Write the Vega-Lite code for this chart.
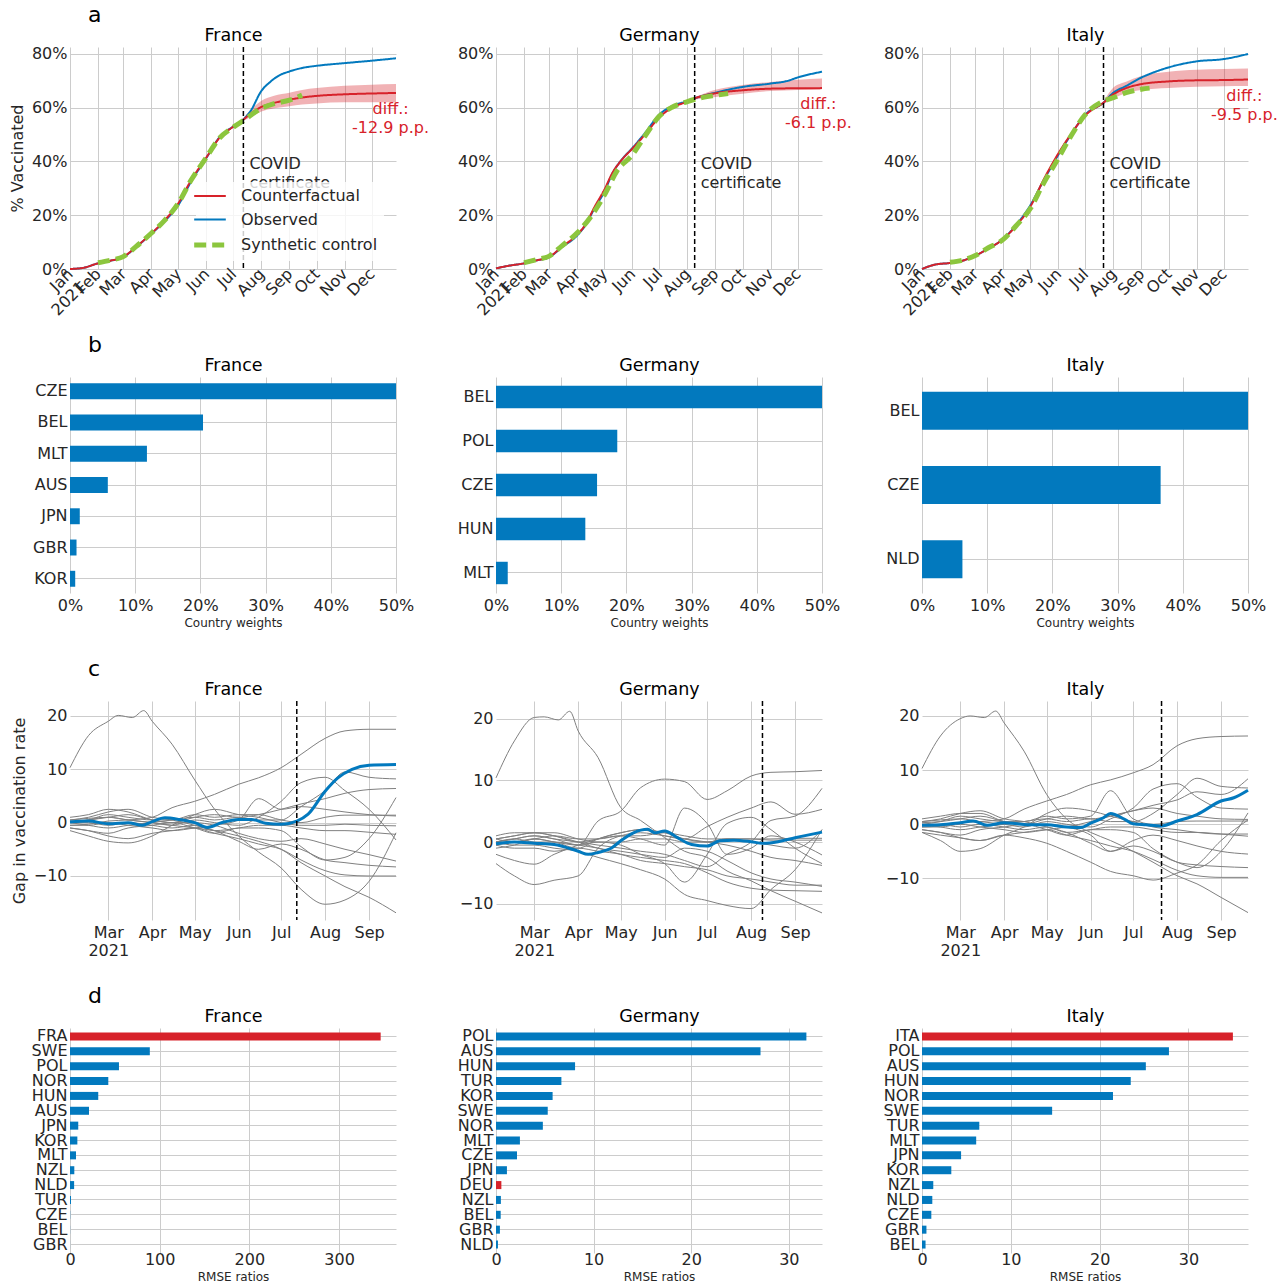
{
"$schema":"https://vega.github.io/schema/vega-lite/v6.json",
"background":"white",
"padding":{"left":9,"top":4,"right":0,"bottom":0},
"config":{
 "font":"DejaVu Sans",
 "view":{"stroke":null},
 "axis":{"domain":false,"ticks":false,"grid":true,"gridColor":"#cccccc","gridWidth":1,"labelFontSize":16,"labelColor":"#262626","labelFont":"DejaVu Sans","titleFont":"DejaVu Sans","titleFontSize":16,"titleFontWeight":"normal","titleColor":"#262626","labelFlush":false,"labelOverlap":false,"labelPadding":3},
 "title":{"fontSize":22,"fontWeight":"normal","color":"#000000","font":"DejaVu Sans"}
},
"datasets":{
"aline":[
{"c":"F","s":"Observed","d":"2021-01-01","v":0},{"c":"F","s":"Observed","d":"2021-01-15","v":0.4},{"c":"F","s":"Observed","d":"2021-02-01","v":2.1},{"c":"F","s":"Observed","d":"2021-02-15","v":3.1},{"c":"F","s":"Observed","d":"2021-03-01","v":4.4},{"c":"F","s":"Observed","d":"2021-03-15","v":8.1},{"c":"F","s":"Observed","d":"2021-04-01","v":13.1},{"c":"F","s":"Observed","d":"2021-04-15","v":17.5},{"c":"F","s":"Observed","d":"2021-05-01","v":23.8},{"c":"F","s":"Observed","d":"2021-05-15","v":32.5},{"c":"F","s":"Observed","d":"2021-06-01","v":41.3},{"c":"F","s":"Observed","d":"2021-06-15","v":48.8},{"c":"F","s":"Observed","d":"2021-07-01","v":53.1},{"c":"F","s":"Observed","d":"2021-07-12","v":55.6},{"c":"F","s":"Observed","d":"2021-07-20","v":58.8},{"c":"F","s":"Observed","d":"2021-08-01","v":66.3},{"c":"F","s":"Observed","d":"2021-08-10","v":69.4},{"c":"F","s":"Observed","d":"2021-08-20","v":71.9},{"c":"F","s":"Observed","d":"2021-09-01","v":73.5},{"c":"F","s":"Observed","d":"2021-09-15","v":74.8},{"c":"F","s":"Observed","d":"2021-10-01","v":75.6},{"c":"F","s":"Observed","d":"2021-11-01","v":76.6},{"c":"F","s":"Observed","d":"2021-12-01","v":77.5},{"c":"F","s":"Observed","d":"2021-12-28","v":78.4},
{"c":"F","s":"Counterfactual","d":"2021-01-01","v":0},{"c":"F","s":"Counterfactual","d":"2021-01-15","v":0.4},{"c":"F","s":"Counterfactual","d":"2021-02-01","v":2.1},{"c":"F","s":"Counterfactual","d":"2021-02-15","v":3.1},{"c":"F","s":"Counterfactual","d":"2021-03-01","v":4.5},{"c":"F","s":"Counterfactual","d":"2021-03-15","v":8.2},{"c":"F","s":"Counterfactual","d":"2021-04-01","v":13.2},{"c":"F","s":"Counterfactual","d":"2021-04-15","v":17.8},{"c":"F","s":"Counterfactual","d":"2021-05-01","v":24.5},{"c":"F","s":"Counterfactual","d":"2021-05-15","v":33},{"c":"F","s":"Counterfactual","d":"2021-06-01","v":41.5},{"c":"F","s":"Counterfactual","d":"2021-06-15","v":48.6},{"c":"F","s":"Counterfactual","d":"2021-07-01","v":53},{"c":"F","s":"Counterfactual","d":"2021-07-12","v":55.6},{"c":"F","s":"Counterfactual","d":"2021-07-20","v":57.8},{"c":"F","s":"Counterfactual","d":"2021-08-01","v":60.3},{"c":"F","s":"Counterfactual","d":"2021-08-15","v":61.8},{"c":"F","s":"Counterfactual","d":"2021-09-01","v":63},{"c":"F","s":"Counterfactual","d":"2021-09-15","v":63.8},{"c":"F","s":"Counterfactual","d":"2021-10-01","v":64.4},{"c":"F","s":"Counterfactual","d":"2021-11-01","v":65},{"c":"F","s":"Counterfactual","d":"2021-12-01","v":65.3},{"c":"F","s":"Counterfactual","d":"2021-12-28","v":65.5},
{"c":"F","s":"Synthetic control","d":"2021-02-01","v":2.3},{"c":"F","s":"Synthetic control","d":"2021-02-15","v":3.3},{"c":"F","s":"Synthetic control","d":"2021-03-01","v":4.6},{"c":"F","s":"Synthetic control","d":"2021-03-15","v":8.3},{"c":"F","s":"Synthetic control","d":"2021-04-01","v":13.3},{"c":"F","s":"Synthetic control","d":"2021-04-15","v":17.8},{"c":"F","s":"Synthetic control","d":"2021-05-01","v":24.5},{"c":"F","s":"Synthetic control","d":"2021-05-15","v":33},{"c":"F","s":"Synthetic control","d":"2021-06-01","v":41.5},{"c":"F","s":"Synthetic control","d":"2021-06-15","v":48.5},{"c":"F","s":"Synthetic control","d":"2021-07-01","v":52.8},{"c":"F","s":"Synthetic control","d":"2021-07-12","v":55.2},{"c":"F","s":"Synthetic control","d":"2021-08-01","v":59.8},{"c":"F","s":"Synthetic control","d":"2021-08-15","v":61.5},{"c":"F","s":"Synthetic control","d":"2021-09-01","v":62.8},{"c":"F","s":"Synthetic control","d":"2021-09-15","v":64.7},
{"c":"G","s":"Observed","d":"2021-01-01","v":0.25},{"c":"G","s":"Observed","d":"2021-01-15","v":1.2},{"c":"G","s":"Observed","d":"2021-02-01","v":2.1},{"c":"G","s":"Observed","d":"2021-02-15","v":3.2},{"c":"G","s":"Observed","d":"2021-03-01","v":4.4},{"c":"G","s":"Observed","d":"2021-03-15","v":8.1},{"c":"G","s":"Observed","d":"2021-04-01","v":12.5},{"c":"G","s":"Observed","d":"2021-04-10","v":16.3},{"c":"G","s":"Observed","d":"2021-04-20","v":22.5},{"c":"G","s":"Observed","d":"2021-05-01","v":28.75},{"c":"G","s":"Observed","d":"2021-05-10","v":35.6},{"c":"G","s":"Observed","d":"2021-05-20","v":40.6},{"c":"G","s":"Observed","d":"2021-06-01","v":45},{"c":"G","s":"Observed","d":"2021-06-15","v":50.6},{"c":"G","s":"Observed","d":"2021-07-01","v":57.5},{"c":"G","s":"Observed","d":"2021-07-15","v":60.6},{"c":"G","s":"Observed","d":"2021-08-01","v":62.5},{"c":"G","s":"Observed","d":"2021-08-09","v":63.5},{"c":"G","s":"Observed","d":"2021-09-01","v":65.6},{"c":"G","s":"Observed","d":"2021-10-01","v":67.75},{"c":"G","s":"Observed","d":"2021-11-01","v":69},{"c":"G","s":"Observed","d":"2021-11-20","v":70},{"c":"G","s":"Observed","d":"2021-12-01","v":71.25},{"c":"G","s":"Observed","d":"2021-12-28","v":73.4},
{"c":"G","s":"Counterfactual","d":"2021-01-01","v":0.25},{"c":"G","s":"Counterfactual","d":"2021-01-15","v":1.2},{"c":"G","s":"Counterfactual","d":"2021-02-01","v":2.1},{"c":"G","s":"Counterfactual","d":"2021-02-15","v":3.2},{"c":"G","s":"Counterfactual","d":"2021-03-01","v":4.5},{"c":"G","s":"Counterfactual","d":"2021-03-15","v":8.3},{"c":"G","s":"Counterfactual","d":"2021-04-01","v":12.8},{"c":"G","s":"Counterfactual","d":"2021-04-10","v":16.5},{"c":"G","s":"Counterfactual","d":"2021-04-20","v":23},{"c":"G","s":"Counterfactual","d":"2021-05-01","v":29.5},{"c":"G","s":"Counterfactual","d":"2021-05-10","v":35.8},{"c":"G","s":"Counterfactual","d":"2021-05-20","v":40.5},{"c":"G","s":"Counterfactual","d":"2021-06-01","v":44.8},{"c":"G","s":"Counterfactual","d":"2021-06-15","v":50},{"c":"G","s":"Counterfactual","d":"2021-07-01","v":56.5},{"c":"G","s":"Counterfactual","d":"2021-07-15","v":60},{"c":"G","s":"Counterfactual","d":"2021-08-01","v":62.3},{"c":"G","s":"Counterfactual","d":"2021-08-09","v":63.5},{"c":"G","s":"Counterfactual","d":"2021-09-01","v":65.4},{"c":"G","s":"Counterfactual","d":"2021-10-01","v":66.5},{"c":"G","s":"Counterfactual","d":"2021-11-01","v":67.1},{"c":"G","s":"Counterfactual","d":"2021-12-01","v":67.25},{"c":"G","s":"Counterfactual","d":"2021-12-28","v":67.3},
{"c":"G","s":"Synthetic control","d":"2021-02-01","v":2.3},{"c":"G","s":"Synthetic control","d":"2021-02-15","v":3.5},{"c":"G","s":"Synthetic control","d":"2021-03-01","v":4.8},{"c":"G","s":"Synthetic control","d":"2021-03-15","v":8.6},{"c":"G","s":"Synthetic control","d":"2021-04-01","v":13.5},{"c":"G","s":"Synthetic control","d":"2021-04-15","v":19},{"c":"G","s":"Synthetic control","d":"2021-05-01","v":27.5},{"c":"G","s":"Synthetic control","d":"2021-05-15","v":36.5},{"c":"G","s":"Synthetic control","d":"2021-06-01","v":42.5},{"c":"G","s":"Synthetic control","d":"2021-06-15","v":49.5},{"c":"G","s":"Synthetic control","d":"2021-07-01","v":56.9},{"c":"G","s":"Synthetic control","d":"2021-07-15","v":60.2},{"c":"G","s":"Synthetic control","d":"2021-08-01","v":62.3},{"c":"G","s":"Synthetic control","d":"2021-08-15","v":63.6},{"c":"G","s":"Synthetic control","d":"2021-09-01","v":64.6},{"c":"G","s":"Synthetic control","d":"2021-09-15","v":65.3},
{"c":"I","s":"Observed","d":"2021-01-01","v":0},{"c":"I","s":"Observed","d":"2021-01-15","v":1.6},{"c":"I","s":"Observed","d":"2021-02-01","v":2.25},{"c":"I","s":"Observed","d":"2021-02-15","v":3.1},{"c":"I","s":"Observed","d":"2021-03-01","v":5},{"c":"I","s":"Observed","d":"2021-03-15","v":7.5},{"c":"I","s":"Observed","d":"2021-04-01","v":11.25},{"c":"I","s":"Observed","d":"2021-04-15","v":16.25},{"c":"I","s":"Observed","d":"2021-05-01","v":23.75},{"c":"I","s":"Observed","d":"2021-05-15","v":32.5},{"c":"I","s":"Observed","d":"2021-06-01","v":42.5},{"c":"I","s":"Observed","d":"2021-06-15","v":50},{"c":"I","s":"Observed","d":"2021-07-01","v":57.5},{"c":"I","s":"Observed","d":"2021-07-21","v":61.9},{"c":"I","s":"Observed","d":"2021-08-01","v":65.6},{"c":"I","s":"Observed","d":"2021-08-15","v":68.1},{"c":"I","s":"Observed","d":"2021-09-01","v":71.25},{"c":"I","s":"Observed","d":"2021-09-15","v":73.2},{"c":"I","s":"Observed","d":"2021-10-01","v":75},{"c":"I","s":"Observed","d":"2021-11-01","v":77.25},{"c":"I","s":"Observed","d":"2021-12-01","v":78.1},{"c":"I","s":"Observed","d":"2021-12-28","v":80},
{"c":"I","s":"Counterfactual","d":"2021-01-01","v":0},{"c":"I","s":"Counterfactual","d":"2021-01-15","v":1.6},{"c":"I","s":"Counterfactual","d":"2021-02-01","v":2.25},{"c":"I","s":"Counterfactual","d":"2021-02-15","v":3.1},{"c":"I","s":"Counterfactual","d":"2021-03-01","v":5},{"c":"I","s":"Counterfactual","d":"2021-03-15","v":7.5},{"c":"I","s":"Counterfactual","d":"2021-04-01","v":11.2},{"c":"I","s":"Counterfactual","d":"2021-04-15","v":16},{"c":"I","s":"Counterfactual","d":"2021-05-01","v":23.2},{"c":"I","s":"Counterfactual","d":"2021-05-15","v":32.8},{"c":"I","s":"Counterfactual","d":"2021-06-01","v":43},{"c":"I","s":"Counterfactual","d":"2021-06-15","v":50.2},{"c":"I","s":"Counterfactual","d":"2021-07-01","v":57.2},{"c":"I","s":"Counterfactual","d":"2021-07-21","v":61.9},{"c":"I","s":"Counterfactual","d":"2021-08-01","v":65},{"c":"I","s":"Counterfactual","d":"2021-08-15","v":67.3},{"c":"I","s":"Counterfactual","d":"2021-09-01","v":68.8},{"c":"I","s":"Counterfactual","d":"2021-10-01","v":69.8},{"c":"I","s":"Counterfactual","d":"2021-11-01","v":70.2},{"c":"I","s":"Counterfactual","d":"2021-12-01","v":70.3},{"c":"I","s":"Counterfactual","d":"2021-12-28","v":70.5},
{"c":"I","s":"Synthetic control","d":"2021-02-01","v":2.5},{"c":"I","s":"Synthetic control","d":"2021-02-15","v":3.3},{"c":"I","s":"Synthetic control","d":"2021-03-01","v":5},{"c":"I","s":"Synthetic control","d":"2021-03-15","v":7.8},{"c":"I","s":"Synthetic control","d":"2021-04-01","v":11},{"c":"I","s":"Synthetic control","d":"2021-04-15","v":16},{"c":"I","s":"Synthetic control","d":"2021-05-01","v":22.5},{"c":"I","s":"Synthetic control","d":"2021-05-15","v":31.5},{"c":"I","s":"Synthetic control","d":"2021-06-01","v":41.25},{"c":"I","s":"Synthetic control","d":"2021-06-15","v":49.5},{"c":"I","s":"Synthetic control","d":"2021-07-01","v":57.5},{"c":"I","s":"Synthetic control","d":"2021-07-21","v":62.5},{"c":"I","s":"Synthetic control","d":"2021-08-01","v":63.75},{"c":"I","s":"Synthetic control","d":"2021-08-15","v":65.6},{"c":"I","s":"Synthetic control","d":"2021-09-01","v":66.9},{"c":"I","s":"Synthetic control","d":"2021-09-10","v":67.3}
],
"aband":[
{"c":"F","d":"2021-07-12","lo":55.2,"hi":56},{"c":"F","d":"2021-07-20","lo":56.5,"hi":59.2},{"c":"F","d":"2021-08-01","lo":58.6,"hi":62.6},{"c":"F","d":"2021-08-15","lo":59.8,"hi":64.5},{"c":"F","d":"2021-09-01","lo":60.6,"hi":65.6},{"c":"F","d":"2021-09-15","lo":61.2,"hi":66.6},{"c":"F","d":"2021-10-01","lo":61.6,"hi":67.3},{"c":"F","d":"2021-11-01","lo":62,"hi":68.2},{"c":"F","d":"2021-12-01","lo":62,"hi":68.6},{"c":"F","d":"2021-12-28","lo":62,"hi":68.8},
{"c":"G","d":"2021-08-09","lo":63.1,"hi":63.9},{"c":"G","d":"2021-09-01","lo":64,"hi":66.7},{"c":"G","d":"2021-10-01","lo":65.2,"hi":68.5},{"c":"G","d":"2021-11-01","lo":66.2,"hi":69.6},{"c":"G","d":"2021-12-01","lo":66.6,"hi":70.4},{"c":"G","d":"2021-12-28","lo":66.9,"hi":70.9},
{"c":"I","d":"2021-07-21","lo":61.4,"hi":62.4},{"c":"I","d":"2021-08-01","lo":63.5,"hi":67.5},{"c":"I","d":"2021-08-15","lo":65.5,"hi":69.7},{"c":"I","d":"2021-09-01","lo":66.6,"hi":71.8},{"c":"I","d":"2021-10-01","lo":67.3,"hi":73.4},{"c":"I","d":"2021-11-01","lo":67.8,"hi":74.1},{"c":"I","d":"2021-12-01","lo":68,"hi":74.4},{"c":"I","d":"2021-12-28","lo":68.1,"hi":74.6}
],
"adiff":[
{"c":"F","d":"2021-12-22","v":59.4,"t":"diff.:\n-12.9 p.p."},
{"c":"G","d":"2021-12-24","v":61.3,"t":"diff.:\n-6.1 p.p."},
{"c":"I","d":"2021-12-24","v":64.5,"t":"diff.:\n-9.5 p.p."}
],
"acert":[
{"c":"F","d":"2021-07-12","v":39.2},
{"c":"G","d":"2021-08-09","v":39.2},
{"c":"I","d":"2021-07-21","v":39.2}
],
"b":[
{"c":"F","k":"CZE","w":0.587},{"c":"F","k":"BEL","w":0.204},{"c":"F","k":"MLT","w":0.118},{"c":"F","k":"AUS","w":0.058},{"c":"F","k":"JPN","w":0.015},{"c":"F","k":"GBR","w":0.01},{"c":"F","k":"KOR","w":0.008},
{"c":"G","k":"BEL","w":0.504},{"c":"G","k":"POL","w":0.186},{"c":"G","k":"CZE","w":0.155},{"c":"G","k":"HUN","w":0.137},{"c":"G","k":"MLT","w":0.018},
{"c":"I","k":"BEL","w":0.572},{"c":"I","k":"CZE","w":0.366},{"c":"I","k":"NLD","w":0.062}
],
"d":[
{"c":"F","k":"FRA","r":346.4,"t":true},{"c":"F","k":"SWE","r":89},{"c":"F","k":"POL","r":54.6},{"c":"F","k":"NOR","r":42.7},{"c":"F","k":"HUN","r":31.5},{"c":"F","k":"AUS","r":21.2},{"c":"F","k":"JPN","r":9.2},{"c":"F","k":"KOR","r":8.2},{"c":"F","k":"MLT","r":6.7},{"c":"F","k":"NZL","r":4.8},{"c":"F","k":"NLD","r":4.6},{"c":"F","k":"TUR","r":1.1},{"c":"F","k":"CZE","r":0.2},{"c":"F","k":"BEL","r":0.1},{"c":"F","k":"GBR","r":0.05},
{"c":"G","k":"POL","r":31.8},{"c":"G","k":"AUS","r":27.1},{"c":"G","k":"HUN","r":8.1},{"c":"G","k":"TUR","r":6.7},{"c":"G","k":"KOR","r":5.8},{"c":"G","k":"SWE","r":5.3},{"c":"G","k":"NOR","r":4.8},{"c":"G","k":"MLT","r":2.45},{"c":"G","k":"CZE","r":2.15},{"c":"G","k":"JPN","r":1.12},{"c":"G","k":"DEU","r":0.55,"t":true},{"c":"G","k":"NZL","r":0.5},{"c":"G","k":"BEL","r":0.48},{"c":"G","k":"GBR","r":0.4},{"c":"G","k":"NLD","r":0.2},
{"c":"I","k":"ITA","r":35.0,"t":true},{"c":"I","k":"POL","r":27.8},{"c":"I","k":"AUS","r":25.2},{"c":"I","k":"HUN","r":23.5},{"c":"I","k":"NOR","r":21.5},{"c":"I","k":"SWE","r":14.65},{"c":"I","k":"TUR","r":6.45},{"c":"I","k":"MLT","r":6.1},{"c":"I","k":"JPN","r":4.4},{"c":"I","k":"KOR","r":3.3},{"c":"I","k":"NZL","r":1.27},{"c":"I","k":"NLD","r":1.16},{"c":"I","k":"CZE","r":1.05},{"c":"I","k":"GBR","r":0.5},{"c":"I","k":"BEL","r":0.4}
],
"cl":[
{"c":"F","l":"T","d":"2021-02-02","v":0.1},{"c":"F","l":"T","d":"2021-02-15","v":0.3},{"c":"F","l":"T","d":"2021-03-01","v":-0.2},{"c":"F","l":"T","d":"2021-03-15","v":0},{"c":"F","l":"T","d":"2021-03-25","v":-0.5},{"c":"F","l":"T","d":"2021-04-01","v":0.2},{"c":"F","l":"T","d":"2021-04-10","v":0.9},{"c":"F","l":"T","d":"2021-04-20","v":0.6},{"c":"F","l":"T","d":"2021-05-01","v":0},{"c":"F","l":"T","d":"2021-05-10","v":-0.9},{"c":"F","l":"T","d":"2021-05-20","v":0},{"c":"F","l":"T","d":"2021-06-01","v":0.6},{"c":"F","l":"T","d":"2021-06-10","v":0.6},{"c":"F","l":"T","d":"2021-06-20","v":-0.1},{"c":"F","l":"T","d":"2021-07-01","v":-0.3},{"c":"F","l":"T","d":"2021-07-12","v":0.3},{"c":"F","l":"T","d":"2021-07-20","v":1.6},{"c":"F","l":"T","d":"2021-08-01","v":5.9},{"c":"F","l":"T","d":"2021-08-10","v":8.4},{"c":"F","l":"T","d":"2021-08-20","v":10},{"c":"F","l":"T","d":"2021-09-01","v":10.75},{"c":"F","l":"T","d":"2021-09-20","v":10.9},
{"c":"G","l":"T","d":"2021-02-02","v":-0.3},{"c":"G","l":"T","d":"2021-02-15","v":0},{"c":"G","l":"T","d":"2021-03-01","v":-0.2},{"c":"G","l":"T","d":"2021-03-15","v":-0.4},{"c":"G","l":"T","d":"2021-04-01","v":-1.5},{"c":"G","l":"T","d":"2021-04-08","v":-2},{"c":"G","l":"T","d":"2021-04-15","v":-1.7},{"c":"G","l":"T","d":"2021-04-25","v":-0.9},{"c":"G","l":"T","d":"2021-05-01","v":0.2},{"c":"G","l":"T","d":"2021-05-10","v":1.5},{"c":"G","l":"T","d":"2021-05-20","v":2.05},{"c":"G","l":"T","d":"2021-05-25","v":1.5},{"c":"G","l":"T","d":"2021-06-01","v":1.8},{"c":"G","l":"T","d":"2021-06-10","v":0.7},{"c":"G","l":"T","d":"2021-06-20","v":-0.4},{"c":"G","l":"T","d":"2021-07-01","v":-0.65},{"c":"G","l":"T","d":"2021-07-10","v":0.2},{"c":"G","l":"T","d":"2021-07-20","v":0.3},{"c":"G","l":"T","d":"2021-08-01","v":0.05},{"c":"G","l":"T","d":"2021-08-09","v":-0.2},{"c":"G","l":"T","d":"2021-08-20","v":0.05},{"c":"G","l":"T","d":"2021-09-01","v":0.7},{"c":"G","l":"T","d":"2021-09-20","v":1.6},
{"c":"I","l":"T","d":"2021-02-02","v":-0.2},{"c":"I","l":"T","d":"2021-02-15","v":-0.1},{"c":"I","l":"T","d":"2021-03-01","v":0.3},{"c":"I","l":"T","d":"2021-03-10","v":0.6},{"c":"I","l":"T","d":"2021-03-20","v":-0.2},{"c":"I","l":"T","d":"2021-04-01","v":0.3},{"c":"I","l":"T","d":"2021-04-10","v":0.1},{"c":"I","l":"T","d":"2021-04-20","v":-0.1},{"c":"I","l":"T","d":"2021-05-01","v":-0.1},{"c":"I","l":"T","d":"2021-05-15","v":-0.5},{"c":"I","l":"T","d":"2021-05-25","v":-0.6},{"c":"I","l":"T","d":"2021-06-01","v":0.2},{"c":"I","l":"T","d":"2021-06-10","v":1.2},{"c":"I","l":"T","d":"2021-06-15","v":2},{"c":"I","l":"T","d":"2021-06-25","v":0.9},{"c":"I","l":"T","d":"2021-07-01","v":0.1},{"c":"I","l":"T","d":"2021-07-10","v":-0.1},{"c":"I","l":"T","d":"2021-07-21","v":-0.3},{"c":"I","l":"T","d":"2021-08-01","v":0.6},{"c":"I","l":"T","d":"2021-08-15","v":1.8},{"c":"I","l":"T","d":"2021-09-01","v":4.3},{"c":"I","l":"T","d":"2021-09-10","v":4.9},{"c":"I","l":"T","d":"2021-09-20","v":6.3},
{"c":"F","l":"1","d":"2021-02-02","v":10.3},{"c":"F","l":"1","d":"2021-02-15","v":16.3},{"c":"F","l":"1","d":"2021-03-01","v":19},{"c":"F","l":"1","d":"2021-03-08","v":20.1},{"c":"F","l":"1","d":"2021-03-18","v":19.7},{"c":"F","l":"1","d":"2021-03-26","v":21},{"c":"F","l":"1","d":"2021-04-01","v":19},{"c":"F","l":"1","d":"2021-04-15","v":14.7},{"c":"F","l":"1","d":"2021-05-01","v":8},{"c":"F","l":"1","d":"2021-05-15","v":2.5},{"c":"F","l":"1","d":"2021-06-01","v":-2.5},{"c":"F","l":"1","d":"2021-06-15","v":-5.5},{"c":"F","l":"1","d":"2021-07-01","v":-8.5},{"c":"F","l":"1","d":"2021-07-15","v":-12.5},{"c":"F","l":"1","d":"2021-08-01","v":-15.3},{"c":"F","l":"1","d":"2021-08-15","v":-14.5},{"c":"F","l":"1","d":"2021-09-01","v":-11},{"c":"F","l":"1","d":"2021-09-20","v":-1.9},
{"c":"F","l":"2","d":"2021-02-02","v":-0.5},{"c":"F","l":"2","d":"2021-02-15","v":-0.3},{"c":"F","l":"2","d":"2021-03-01","v":0.3},{"c":"F","l":"2","d":"2021-03-15","v":0.5},{"c":"F","l":"2","d":"2021-04-01","v":1},{"c":"F","l":"2","d":"2021-04-15","v":2.8},{"c":"F","l":"2","d":"2021-05-01","v":4},{"c":"F","l":"2","d":"2021-05-15","v":5.3},{"c":"F","l":"2","d":"2021-06-01","v":7.2},{"c":"F","l":"2","d":"2021-06-15","v":8.4},{"c":"F","l":"2","d":"2021-07-01","v":10.3},{"c":"F","l":"2","d":"2021-07-15","v":12.8},{"c":"F","l":"2","d":"2021-08-01","v":15.8},{"c":"F","l":"2","d":"2021-08-15","v":17.2},{"c":"F","l":"2","d":"2021-09-01","v":17.5},{"c":"F","l":"2","d":"2021-09-20","v":17.5},
{"c":"F","l":"3","d":"2021-02-02","v":0},{"c":"F","l":"3","d":"2021-02-15","v":0.5},{"c":"F","l":"3","d":"2021-03-01","v":1},{"c":"F","l":"3","d":"2021-03-15","v":0.5},{"c":"F","l":"3","d":"2021-04-01","v":0},{"c":"F","l":"3","d":"2021-04-15","v":-0.5},{"c":"F","l":"3","d":"2021-05-01","v":-1},{"c":"F","l":"3","d":"2021-05-15","v":-1.5},{"c":"F","l":"3","d":"2021-06-01","v":-2.5},{"c":"F","l":"3","d":"2021-06-15","v":-3.5},{"c":"F","l":"3","d":"2021-07-01","v":-5},{"c":"F","l":"3","d":"2021-07-15","v":-7.5},{"c":"F","l":"3","d":"2021-08-01","v":-10},{"c":"F","l":"3","d":"2021-08-15","v":-12},{"c":"F","l":"3","d":"2021-09-01","v":-14},{"c":"F","l":"3","d":"2021-09-20","v":-16.9},
{"c":"F","l":"4","d":"2021-02-02","v":0.5},{"c":"F","l":"4","d":"2021-02-15","v":0.8},{"c":"F","l":"4","d":"2021-03-01","v":1},{"c":"F","l":"4","d":"2021-03-15","v":0.5},{"c":"F","l":"4","d":"2021-04-01","v":0},{"c":"F","l":"4","d":"2021-04-15","v":-0.5},{"c":"F","l":"4","d":"2021-05-01","v":0.5},{"c":"F","l":"4","d":"2021-05-15","v":0},{"c":"F","l":"4","d":"2021-06-01","v":-0.5},{"c":"F","l":"4","d":"2021-06-15","v":1},{"c":"F","l":"4","d":"2021-07-01","v":4},{"c":"F","l":"4","d":"2021-07-15","v":7.5},{"c":"F","l":"4","d":"2021-08-01","v":8.5},{"c":"F","l":"4","d":"2021-08-15","v":6},{"c":"F","l":"4","d":"2021-09-01","v":2.5},{"c":"F","l":"4","d":"2021-09-20","v":-3.25},
{"c":"F","l":"5","d":"2021-02-02","v":0},{"c":"F","l":"5","d":"2021-02-15","v":-0.5},{"c":"F","l":"5","d":"2021-03-01","v":-1},{"c":"F","l":"5","d":"2021-03-15","v":-0.5},{"c":"F","l":"5","d":"2021-04-01","v":0},{"c":"F","l":"5","d":"2021-04-15","v":0.5},{"c":"F","l":"5","d":"2021-05-01","v":1},{"c":"F","l":"5","d":"2021-05-15","v":0.5},{"c":"F","l":"5","d":"2021-06-01","v":1},{"c":"F","l":"5","d":"2021-06-15","v":0.5},{"c":"F","l":"5","d":"2021-07-01","v":0.5},{"c":"F","l":"5","d":"2021-07-15","v":3},{"c":"F","l":"5","d":"2021-08-01","v":6},{"c":"F","l":"5","d":"2021-08-15","v":9.5},{"c":"F","l":"5","d":"2021-09-01","v":8.5},{"c":"F","l":"5","d":"2021-09-20","v":8.2},
{"c":"F","l":"6","d":"2021-02-02","v":0.3},{"c":"F","l":"6","d":"2021-02-15","v":0.5},{"c":"F","l":"6","d":"2021-03-01","v":1},{"c":"F","l":"6","d":"2021-03-15","v":1.5},{"c":"F","l":"6","d":"2021-04-01","v":0.5},{"c":"F","l":"6","d":"2021-04-15","v":0},{"c":"F","l":"6","d":"2021-05-01","v":1},{"c":"F","l":"6","d":"2021-05-15","v":1.5},{"c":"F","l":"6","d":"2021-06-01","v":1},{"c":"F","l":"6","d":"2021-06-15","v":1.5},{"c":"F","l":"6","d":"2021-07-01","v":2.5},{"c":"F","l":"6","d":"2021-07-15","v":3.5},{"c":"F","l":"6","d":"2021-08-01","v":4.5},{"c":"F","l":"6","d":"2021-08-15","v":5.5},{"c":"F","l":"6","d":"2021-09-01","v":6.2},{"c":"F","l":"6","d":"2021-09-20","v":6.4},
{"c":"F","l":"7","d":"2021-02-02","v":-1},{"c":"F","l":"7","d":"2021-02-15","v":-1.5},{"c":"F","l":"7","d":"2021-03-01","v":-2},{"c":"F","l":"7","d":"2021-03-15","v":-1},{"c":"F","l":"7","d":"2021-04-01","v":-0.5},{"c":"F","l":"7","d":"2021-04-15","v":0},{"c":"F","l":"7","d":"2021-05-01","v":-1},{"c":"F","l":"7","d":"2021-05-15","v":-2},{"c":"F","l":"7","d":"2021-06-01","v":-1},{"c":"F","l":"7","d":"2021-06-15","v":-1},{"c":"F","l":"7","d":"2021-07-01","v":-1.5},{"c":"F","l":"7","d":"2021-07-15","v":-4.5},{"c":"F","l":"7","d":"2021-08-01","v":-7},{"c":"F","l":"7","d":"2021-08-15","v":-6.5},{"c":"F","l":"7","d":"2021-09-01","v":-3},{"c":"F","l":"7","d":"2021-09-20","v":4.7},
{"c":"F","l":"8","d":"2021-02-02","v":0},{"c":"F","l":"8","d":"2021-02-15","v":0.5},{"c":"F","l":"8","d":"2021-03-01","v":1.5},{"c":"F","l":"8","d":"2021-03-15","v":1},{"c":"F","l":"8","d":"2021-04-01","v":0.5},{"c":"F","l":"8","d":"2021-04-15","v":0.5},{"c":"F","l":"8","d":"2021-05-01","v":1.5},{"c":"F","l":"8","d":"2021-05-15","v":1},{"c":"F","l":"8","d":"2021-06-01","v":1.5},{"c":"F","l":"8","d":"2021-06-15","v":1.5},{"c":"F","l":"8","d":"2021-07-01","v":0.5},{"c":"F","l":"8","d":"2021-07-15","v":0},{"c":"F","l":"8","d":"2021-08-01","v":1},{"c":"F","l":"8","d":"2021-08-15","v":1.4},{"c":"F","l":"8","d":"2021-09-01","v":1.4},{"c":"F","l":"8","d":"2021-09-20","v":1.4},
{"c":"F","l":"9","d":"2021-02-02","v":-0.5},{"c":"F","l":"9","d":"2021-02-15","v":-0.5},{"c":"F","l":"9","d":"2021-03-01","v":0},{"c":"F","l":"9","d":"2021-03-15","v":-0.5},{"c":"F","l":"9","d":"2021-04-01","v":-1},{"c":"F","l":"9","d":"2021-04-15","v":-1.5},{"c":"F","l":"9","d":"2021-05-01","v":-1},{"c":"F","l":"9","d":"2021-05-15","v":-0.5},{"c":"F","l":"9","d":"2021-06-01","v":0.5},{"c":"F","l":"9","d":"2021-06-15","v":4.5},{"c":"F","l":"9","d":"2021-07-01","v":2.5},{"c":"F","l":"9","d":"2021-07-15","v":3},{"c":"F","l":"9","d":"2021-08-01","v":2.5},{"c":"F","l":"9","d":"2021-08-15","v":2},{"c":"F","l":"9","d":"2021-09-01","v":1.5},{"c":"F","l":"9","d":"2021-09-20","v":1.25},
{"c":"F","l":"10","d":"2021-02-02","v":-1.5},{"c":"F","l":"10","d":"2021-02-15","v":-2.5},{"c":"F","l":"10","d":"2021-03-01","v":-3.5},{"c":"F","l":"10","d":"2021-03-15","v":-3.8},{"c":"F","l":"10","d":"2021-04-01","v":-2.5},{"c":"F","l":"10","d":"2021-04-15","v":-0.5},{"c":"F","l":"10","d":"2021-05-01","v":1.5},{"c":"F","l":"10","d":"2021-05-15","v":2.5},{"c":"F","l":"10","d":"2021-06-01","v":1.5},{"c":"F","l":"10","d":"2021-06-15","v":1},{"c":"F","l":"10","d":"2021-07-01","v":0},{"c":"F","l":"10","d":"2021-07-15","v":-0.5},{"c":"F","l":"10","d":"2021-08-01","v":-0.5},{"c":"F","l":"10","d":"2021-08-15","v":-0.3},{"c":"F","l":"10","d":"2021-09-01","v":-0.5},{"c":"F","l":"10","d":"2021-09-20","v":-0.6},
{"c":"F","l":"11","d":"2021-02-02","v":0},{"c":"F","l":"11","d":"2021-02-15","v":0},{"c":"F","l":"11","d":"2021-03-01","v":-0.5},{"c":"F","l":"11","d":"2021-03-15","v":0},{"c":"F","l":"11","d":"2021-04-01","v":-0.5},{"c":"F","l":"11","d":"2021-04-15","v":-1},{"c":"F","l":"11","d":"2021-05-01","v":-0.5},{"c":"F","l":"11","d":"2021-05-15","v":-1.5},{"c":"F","l":"11","d":"2021-06-01","v":-1},{"c":"F","l":"11","d":"2021-06-15","v":-0.5},{"c":"F","l":"11","d":"2021-07-01","v":-0.5},{"c":"F","l":"11","d":"2021-07-15","v":-1},{"c":"F","l":"11","d":"2021-08-01","v":-1.5},{"c":"F","l":"11","d":"2021-08-15","v":-1.5},{"c":"F","l":"11","d":"2021-09-01","v":-1.8},{"c":"F","l":"11","d":"2021-09-20","v":-2.2},
{"c":"F","l":"12","d":"2021-02-02","v":1},{"c":"F","l":"12","d":"2021-02-15","v":1.5},{"c":"F","l":"12","d":"2021-03-01","v":2.5},{"c":"F","l":"12","d":"2021-03-15","v":2},{"c":"F","l":"12","d":"2021-04-01","v":0.5},{"c":"F","l":"12","d":"2021-04-15","v":0},{"c":"F","l":"12","d":"2021-05-01","v":0},{"c":"F","l":"12","d":"2021-05-15","v":-0.5},{"c":"F","l":"12","d":"2021-06-01","v":-2},{"c":"F","l":"12","d":"2021-06-15","v":-3},{"c":"F","l":"12","d":"2021-07-01","v":-3.5},{"c":"F","l":"12","d":"2021-07-15","v":-3},{"c":"F","l":"12","d":"2021-08-01","v":-4},{"c":"F","l":"12","d":"2021-08-15","v":-5},{"c":"F","l":"12","d":"2021-09-01","v":-6},{"c":"F","l":"12","d":"2021-09-20","v":-7.2},
{"c":"F","l":"13","d":"2021-02-02","v":0.5},{"c":"F","l":"13","d":"2021-02-15","v":1},{"c":"F","l":"13","d":"2021-03-01","v":2},{"c":"F","l":"13","d":"2021-03-15","v":2.5},{"c":"F","l":"13","d":"2021-04-01","v":1},{"c":"F","l":"13","d":"2021-04-15","v":0.5},{"c":"F","l":"13","d":"2021-05-01","v":-0.5},{"c":"F","l":"13","d":"2021-05-15","v":-1.5},{"c":"F","l":"13","d":"2021-06-01","v":-3.5},{"c":"F","l":"13","d":"2021-06-15","v":-5},{"c":"F","l":"13","d":"2021-07-01","v":-4},{"c":"F","l":"13","d":"2021-07-15","v":-5},{"c":"F","l":"13","d":"2021-08-01","v":-7},{"c":"F","l":"13","d":"2021-08-15","v":-7.5},{"c":"F","l":"13","d":"2021-09-01","v":-8},{"c":"F","l":"13","d":"2021-09-20","v":-8.3},
{"c":"F","l":"14","d":"2021-02-02","v":-1},{"c":"F","l":"14","d":"2021-02-15","v":-1.5},{"c":"F","l":"14","d":"2021-03-01","v":-2.5},{"c":"F","l":"14","d":"2021-03-15","v":-3},{"c":"F","l":"14","d":"2021-04-01","v":-2},{"c":"F","l":"14","d":"2021-04-15","v":-1.5},{"c":"F","l":"14","d":"2021-05-01","v":-1},{"c":"F","l":"14","d":"2021-05-15","v":-2},{"c":"F","l":"14","d":"2021-06-01","v":-3},{"c":"F","l":"14","d":"2021-06-15","v":-4},{"c":"F","l":"14","d":"2021-07-01","v":-5},{"c":"F","l":"14","d":"2021-07-15","v":-7},{"c":"F","l":"14","d":"2021-08-01","v":-9},{"c":"F","l":"14","d":"2021-08-15","v":-9.8},{"c":"F","l":"14","d":"2021-09-01","v":-10},{"c":"F","l":"14","d":"2021-09-20","v":-10},
{"c":"G","l":"1","d":"2021-02-02","v":10.4},{"c":"G","l":"1","d":"2021-02-15","v":16.4},{"c":"G","l":"1","d":"2021-03-01","v":20.2},{"c":"G","l":"1","d":"2021-03-08","v":20.3},{"c":"G","l":"1","d":"2021-03-18","v":19.8},{"c":"G","l":"1","d":"2021-03-26","v":21.2},{"c":"G","l":"1","d":"2021-04-01","v":18},{"c":"G","l":"1","d":"2021-04-15","v":13.7},{"c":"G","l":"1","d":"2021-05-01","v":5.6},{"c":"G","l":"1","d":"2021-05-15","v":3.5},{"c":"G","l":"1","d":"2021-06-01","v":0.7},{"c":"G","l":"1","d":"2021-06-15","v":-1.5},{"c":"G","l":"1","d":"2021-07-01","v":-2.5},{"c":"G","l":"1","d":"2021-07-15","v":-4.7},{"c":"G","l":"1","d":"2021-08-01","v":-6.3},{"c":"G","l":"1","d":"2021-08-15","v":-7.9},{"c":"G","l":"1","d":"2021-09-01","v":-9.6},{"c":"G","l":"1","d":"2021-09-20","v":-11.5},
{"c":"G","l":"2","d":"2021-02-02","v":-0.5},{"c":"G","l":"2","d":"2021-02-15","v":0},{"c":"G","l":"2","d":"2021-03-01","v":0.5},{"c":"G","l":"2","d":"2021-03-15","v":0},{"c":"G","l":"2","d":"2021-04-01","v":-0.5},{"c":"G","l":"2","d":"2021-04-15","v":3.4},{"c":"G","l":"2","d":"2021-05-01","v":5},{"c":"G","l":"2","d":"2021-05-15","v":8.8},{"c":"G","l":"2","d":"2021-06-01","v":10.2},{"c":"G","l":"2","d":"2021-06-15","v":9.8},{"c":"G","l":"2","d":"2021-07-01","v":6.9},{"c":"G","l":"2","d":"2021-07-15","v":8.3},{"c":"G","l":"2","d":"2021-08-01","v":10.7},{"c":"G","l":"2","d":"2021-08-15","v":11.3},{"c":"G","l":"2","d":"2021-09-01","v":11.4},{"c":"G","l":"2","d":"2021-09-20","v":11.6},
{"c":"G","l":"3","d":"2021-02-02","v":0},{"c":"G","l":"3","d":"2021-02-15","v":0.5},{"c":"G","l":"3","d":"2021-03-01","v":1},{"c":"G","l":"3","d":"2021-03-15","v":0.5},{"c":"G","l":"3","d":"2021-04-01","v":0},{"c":"G","l":"3","d":"2021-04-15","v":-0.5},{"c":"G","l":"3","d":"2021-05-01","v":-1},{"c":"G","l":"3","d":"2021-05-15","v":-1.5},{"c":"G","l":"3","d":"2021-06-01","v":-2},{"c":"G","l":"3","d":"2021-06-15","v":-3},{"c":"G","l":"3","d":"2021-07-01","v":-4},{"c":"G","l":"3","d":"2021-07-15","v":-2},{"c":"G","l":"3","d":"2021-08-01","v":0},{"c":"G","l":"3","d":"2021-08-15","v":3.5},{"c":"G","l":"3","d":"2021-09-01","v":4.2},{"c":"G","l":"3","d":"2021-09-20","v":8.7},
{"c":"G","l":"4","d":"2021-02-02","v":-1},{"c":"G","l":"4","d":"2021-02-15","v":-0.5},{"c":"G","l":"4","d":"2021-03-01","v":0.5},{"c":"G","l":"4","d":"2021-03-15","v":0},{"c":"G","l":"4","d":"2021-04-01","v":-1},{"c":"G","l":"4","d":"2021-04-15","v":0.5},{"c":"G","l":"4","d":"2021-05-01","v":1.5},{"c":"G","l":"4","d":"2021-05-15","v":2},{"c":"G","l":"4","d":"2021-06-01","v":1},{"c":"G","l":"4","d":"2021-06-15","v":0.5},{"c":"G","l":"4","d":"2021-07-01","v":2.5},{"c":"G","l":"4","d":"2021-07-15","v":4},{"c":"G","l":"4","d":"2021-08-01","v":5.5},{"c":"G","l":"4","d":"2021-08-15","v":6.5},{"c":"G","l":"4","d":"2021-09-01","v":4.5},{"c":"G","l":"4","d":"2021-09-20","v":5.3},
{"c":"G","l":"5","d":"2021-02-02","v":0.5},{"c":"G","l":"5","d":"2021-02-15","v":1},{"c":"G","l":"5","d":"2021-03-01","v":1.5},{"c":"G","l":"5","d":"2021-03-15","v":1},{"c":"G","l":"5","d":"2021-04-01","v":0},{"c":"G","l":"5","d":"2021-04-15","v":0.5},{"c":"G","l":"5","d":"2021-05-01","v":1},{"c":"G","l":"5","d":"2021-05-15","v":0.5},{"c":"G","l":"5","d":"2021-06-01","v":-0.5},{"c":"G","l":"5","d":"2021-06-15","v":5.5},{"c":"G","l":"5","d":"2021-07-01","v":3},{"c":"G","l":"5","d":"2021-07-15","v":-2},{"c":"G","l":"5","d":"2021-08-01","v":-1},{"c":"G","l":"5","d":"2021-08-15","v":1},{"c":"G","l":"5","d":"2021-09-01","v":0},{"c":"G","l":"5","d":"2021-09-20","v":-2.1},
{"c":"G","l":"6","d":"2021-02-02","v":0},{"c":"G","l":"6","d":"2021-02-15","v":0.5},{"c":"G","l":"6","d":"2021-03-01","v":1},{"c":"G","l":"6","d":"2021-03-15","v":0.5},{"c":"G","l":"6","d":"2021-04-01","v":-0.5},{"c":"G","l":"6","d":"2021-04-15","v":0},{"c":"G","l":"6","d":"2021-05-01","v":-0.5},{"c":"G","l":"6","d":"2021-05-15","v":-2},{"c":"G","l":"6","d":"2021-06-01","v":-3.5},{"c":"G","l":"6","d":"2021-06-15","v":-6.5},{"c":"G","l":"6","d":"2021-07-01","v":-2},{"c":"G","l":"6","d":"2021-07-15","v":3},{"c":"G","l":"6","d":"2021-08-01","v":4},{"c":"G","l":"6","d":"2021-08-15","v":2},{"c":"G","l":"6","d":"2021-09-01","v":-1},{"c":"G","l":"6","d":"2021-09-20","v":-3.5},
{"c":"G","l":"7","d":"2021-02-02","v":-3.5},{"c":"G","l":"7","d":"2021-02-15","v":-5.5},{"c":"G","l":"7","d":"2021-03-01","v":-6.9},{"c":"G","l":"7","d":"2021-03-15","v":-6.2},{"c":"G","l":"7","d":"2021-04-01","v":-5.5},{"c":"G","l":"7","d":"2021-04-15","v":-1},{"c":"G","l":"7","d":"2021-05-01","v":1},{"c":"G","l":"7","d":"2021-05-15","v":1.5},{"c":"G","l":"7","d":"2021-06-01","v":1},{"c":"G","l":"7","d":"2021-06-15","v":0.5},{"c":"G","l":"7","d":"2021-07-01","v":0},{"c":"G","l":"7","d":"2021-07-15","v":-0.5},{"c":"G","l":"7","d":"2021-08-01","v":-1.5},{"c":"G","l":"7","d":"2021-08-15","v":-2.5},{"c":"G","l":"7","d":"2021-09-01","v":-3},{"c":"G","l":"7","d":"2021-09-20","v":-3.8},
{"c":"G","l":"8","d":"2021-02-02","v":-2},{"c":"G","l":"8","d":"2021-02-15","v":-3},{"c":"G","l":"8","d":"2021-03-01","v":-3.6},{"c":"G","l":"8","d":"2021-03-15","v":-2},{"c":"G","l":"8","d":"2021-04-01","v":-0.5},{"c":"G","l":"8","d":"2021-04-15","v":0.5},{"c":"G","l":"8","d":"2021-05-01","v":1.5},{"c":"G","l":"8","d":"2021-05-15","v":2},{"c":"G","l":"8","d":"2021-06-01","v":1.5},{"c":"G","l":"8","d":"2021-06-15","v":0.5},{"c":"G","l":"8","d":"2021-07-01","v":0},{"c":"G","l":"8","d":"2021-07-15","v":0.5},{"c":"G","l":"8","d":"2021-08-01","v":0},{"c":"G","l":"8","d":"2021-08-15","v":-0.5},{"c":"G","l":"8","d":"2021-09-01","v":-1},{"c":"G","l":"8","d":"2021-09-20","v":2},
{"c":"G","l":"9","d":"2021-02-02","v":0.5},{"c":"G","l":"9","d":"2021-02-15","v":1},{"c":"G","l":"9","d":"2021-03-01","v":1.5},{"c":"G","l":"9","d":"2021-03-15","v":1.5},{"c":"G","l":"9","d":"2021-04-01","v":0.5},{"c":"G","l":"9","d":"2021-04-15","v":0},{"c":"G","l":"9","d":"2021-05-01","v":0},{"c":"G","l":"9","d":"2021-05-15","v":0.5},{"c":"G","l":"9","d":"2021-06-01","v":0.5},{"c":"G","l":"9","d":"2021-06-15","v":0},{"c":"G","l":"9","d":"2021-07-01","v":0},{"c":"G","l":"9","d":"2021-07-15","v":0.5},{"c":"G","l":"9","d":"2021-08-01","v":0.5},{"c":"G","l":"9","d":"2021-08-15","v":0.5},{"c":"G","l":"9","d":"2021-09-01","v":0.6},{"c":"G","l":"9","d":"2021-09-20","v":0.6},
{"c":"G","l":"10","d":"2021-02-02","v":0},{"c":"G","l":"10","d":"2021-02-15","v":-0.5},{"c":"G","l":"10","d":"2021-03-01","v":-0.5},{"c":"G","l":"10","d":"2021-03-15","v":-1},{"c":"G","l":"10","d":"2021-04-01","v":-1.5},{"c":"G","l":"10","d":"2021-04-15","v":-2.5},{"c":"G","l":"10","d":"2021-05-01","v":-3.5},{"c":"G","l":"10","d":"2021-05-15","v":-4.5},{"c":"G","l":"10","d":"2021-06-01","v":-6},{"c":"G","l":"10","d":"2021-06-15","v":-8.5},{"c":"G","l":"10","d":"2021-07-01","v":-9.5},{"c":"G","l":"10","d":"2021-07-15","v":-10.3},{"c":"G","l":"10","d":"2021-08-01","v":-10.8},{"c":"G","l":"10","d":"2021-08-15","v":-7.7},{"c":"G","l":"10","d":"2021-09-01","v":-4.5},{"c":"G","l":"10","d":"2021-09-20","v":2},
{"c":"G","l":"11","d":"2021-02-02","v":-0.5},{"c":"G","l":"11","d":"2021-02-15","v":-1},{"c":"G","l":"11","d":"2021-03-01","v":-1},{"c":"G","l":"11","d":"2021-03-15","v":-1.5},{"c":"G","l":"11","d":"2021-04-01","v":-1},{"c":"G","l":"11","d":"2021-04-15","v":-1.5},{"c":"G","l":"11","d":"2021-05-01","v":-2},{"c":"G","l":"11","d":"2021-05-15","v":-3},{"c":"G","l":"11","d":"2021-06-01","v":-3.5},{"c":"G","l":"11","d":"2021-06-15","v":-4},{"c":"G","l":"11","d":"2021-07-01","v":-4.5},{"c":"G","l":"11","d":"2021-07-15","v":-5.5},{"c":"G","l":"11","d":"2021-08-01","v":-6},{"c":"G","l":"11","d":"2021-08-15","v":-6.5},{"c":"G","l":"11","d":"2021-09-01","v":-7},{"c":"G","l":"11","d":"2021-09-20","v":-7},
{"c":"G","l":"12","d":"2021-02-02","v":0},{"c":"G","l":"12","d":"2021-02-15","v":0.5},{"c":"G","l":"12","d":"2021-03-01","v":0},{"c":"G","l":"12","d":"2021-03-15","v":0},{"c":"G","l":"12","d":"2021-04-01","v":-0.5},{"c":"G","l":"12","d":"2021-04-15","v":-1},{"c":"G","l":"12","d":"2021-05-01","v":-2},{"c":"G","l":"12","d":"2021-05-15","v":-2.5},{"c":"G","l":"12","d":"2021-06-01","v":-3},{"c":"G","l":"12","d":"2021-06-15","v":-3.5},{"c":"G","l":"12","d":"2021-07-01","v":-5},{"c":"G","l":"12","d":"2021-07-15","v":-6.5},{"c":"G","l":"12","d":"2021-08-01","v":-7.5},{"c":"G","l":"12","d":"2021-08-15","v":-7.8},{"c":"G","l":"12","d":"2021-09-01","v":-7.9},{"c":"G","l":"12","d":"2021-09-20","v":-8},
{"c":"G","l":"13","d":"2021-02-02","v":0.5},{"c":"G","l":"13","d":"2021-02-15","v":0},{"c":"G","l":"13","d":"2021-03-01","v":0.5},{"c":"G","l":"13","d":"2021-03-15","v":1},{"c":"G","l":"13","d":"2021-04-01","v":0.5},{"c":"G","l":"13","d":"2021-04-15","v":0.5},{"c":"G","l":"13","d":"2021-05-01","v":1},{"c":"G","l":"13","d":"2021-05-15","v":1},{"c":"G","l":"13","d":"2021-06-01","v":1.5},{"c":"G","l":"13","d":"2021-06-15","v":1},{"c":"G","l":"13","d":"2021-07-01","v":0.5},{"c":"G","l":"13","d":"2021-07-15","v":0.5},{"c":"G","l":"13","d":"2021-08-01","v":0.5},{"c":"G","l":"13","d":"2021-08-15","v":0.3},{"c":"G","l":"13","d":"2021-09-01","v":0.3},{"c":"G","l":"13","d":"2021-09-20","v":0.3},
{"c":"G","l":"14","d":"2021-02-02","v":1},{"c":"G","l":"14","d":"2021-02-15","v":1.5},{"c":"G","l":"14","d":"2021-03-01","v":1.5},{"c":"G","l":"14","d":"2021-03-15","v":1},{"c":"G","l":"14","d":"2021-04-01","v":0},{"c":"G","l":"14","d":"2021-04-15","v":-1},{"c":"G","l":"14","d":"2021-05-01","v":-1.5},{"c":"G","l":"14","d":"2021-05-15","v":-2},{"c":"G","l":"14","d":"2021-06-01","v":-2.5},{"c":"G","l":"14","d":"2021-06-15","v":-1},{"c":"G","l":"14","d":"2021-07-01","v":-1.5},{"c":"G","l":"14","d":"2021-07-15","v":-3},{"c":"G","l":"14","d":"2021-08-01","v":-5},{"c":"G","l":"14","d":"2021-08-15","v":-6},{"c":"G","l":"14","d":"2021-09-01","v":-6.5},{"c":"G","l":"14","d":"2021-09-20","v":-7.2},
{"c":"I","l":"1","d":"2021-02-02","v":10.3},{"c":"I","l":"1","d":"2021-02-15","v":16.3},{"c":"I","l":"1","d":"2021-03-01","v":19.5},{"c":"I","l":"1","d":"2021-03-08","v":20},{"c":"I","l":"1","d":"2021-03-18","v":19.7},{"c":"I","l":"1","d":"2021-03-26","v":20.9},{"c":"I","l":"1","d":"2021-04-01","v":18.7},{"c":"I","l":"1","d":"2021-04-15","v":13.5},{"c":"I","l":"1","d":"2021-05-01","v":5.5},{"c":"I","l":"1","d":"2021-05-15","v":1},{"c":"I","l":"1","d":"2021-06-01","v":-1.5},{"c":"I","l":"1","d":"2021-06-15","v":-3},{"c":"I","l":"1","d":"2021-07-01","v":-5},{"c":"I","l":"1","d":"2021-07-15","v":-7},{"c":"I","l":"1","d":"2021-08-01","v":-9.5},{"c":"I","l":"1","d":"2021-08-15","v":-11},{"c":"I","l":"1","d":"2021-09-01","v":-13.5},{"c":"I","l":"1","d":"2021-09-20","v":-16.3},
{"c":"I","l":"2","d":"2021-02-02","v":-0.5},{"c":"I","l":"2","d":"2021-02-15","v":-0.3},{"c":"I","l":"2","d":"2021-03-01","v":0.3},{"c":"I","l":"2","d":"2021-03-15","v":0.5},{"c":"I","l":"2","d":"2021-04-01","v":1},{"c":"I","l":"2","d":"2021-04-15","v":2.8},{"c":"I","l":"2","d":"2021-05-01","v":4.3},{"c":"I","l":"2","d":"2021-05-15","v":5.5},{"c":"I","l":"2","d":"2021-06-01","v":7.3},{"c":"I","l":"2","d":"2021-06-15","v":8.2},{"c":"I","l":"2","d":"2021-07-01","v":9.5},{"c":"I","l":"2","d":"2021-07-15","v":11},{"c":"I","l":"2","d":"2021-08-01","v":14.5},{"c":"I","l":"2","d":"2021-08-15","v":15.8},{"c":"I","l":"2","d":"2021-09-01","v":16.2},{"c":"I","l":"2","d":"2021-09-20","v":16.3},
{"c":"I","l":"3","d":"2021-02-02","v":0.5},{"c":"I","l":"3","d":"2021-02-15","v":0.8},{"c":"I","l":"3","d":"2021-03-01","v":1},{"c":"I","l":"3","d":"2021-03-15","v":0.5},{"c":"I","l":"3","d":"2021-04-01","v":0},{"c":"I","l":"3","d":"2021-04-15","v":-0.5},{"c":"I","l":"3","d":"2021-05-01","v":0.5},{"c":"I","l":"3","d":"2021-05-15","v":0},{"c":"I","l":"3","d":"2021-06-01","v":-0.5},{"c":"I","l":"3","d":"2021-06-15","v":1},{"c":"I","l":"3","d":"2021-07-01","v":3},{"c":"I","l":"3","d":"2021-07-15","v":6.5},{"c":"I","l":"3","d":"2021-08-01","v":7.5},{"c":"I","l":"3","d":"2021-08-15","v":5},{"c":"I","l":"3","d":"2021-09-01","v":3},{"c":"I","l":"3","d":"2021-09-20","v":2.8},
{"c":"I","l":"4","d":"2021-02-02","v":0},{"c":"I","l":"4","d":"2021-02-15","v":-0.5},{"c":"I","l":"4","d":"2021-03-01","v":-1},{"c":"I","l":"4","d":"2021-03-15","v":-0.5},{"c":"I","l":"4","d":"2021-04-01","v":0},{"c":"I","l":"4","d":"2021-04-15","v":0.5},{"c":"I","l":"4","d":"2021-05-01","v":1},{"c":"I","l":"4","d":"2021-05-15","v":0.5},{"c":"I","l":"4","d":"2021-06-01","v":1},{"c":"I","l":"4","d":"2021-06-15","v":0.5},{"c":"I","l":"4","d":"2021-07-01","v":0.5},{"c":"I","l":"4","d":"2021-07-15","v":2},{"c":"I","l":"4","d":"2021-08-01","v":5.5},{"c":"I","l":"4","d":"2021-08-15","v":8.5},{"c":"I","l":"4","d":"2021-09-01","v":7},{"c":"I","l":"4","d":"2021-09-20","v":6.7},
{"c":"I","l":"5","d":"2021-02-02","v":0.3},{"c":"I","l":"5","d":"2021-02-15","v":0.5},{"c":"I","l":"5","d":"2021-03-01","v":1},{"c":"I","l":"5","d":"2021-03-15","v":1.5},{"c":"I","l":"5","d":"2021-04-01","v":0.5},{"c":"I","l":"5","d":"2021-04-15","v":0},{"c":"I","l":"5","d":"2021-05-01","v":1},{"c":"I","l":"5","d":"2021-05-15","v":1.5},{"c":"I","l":"5","d":"2021-06-01","v":1},{"c":"I","l":"5","d":"2021-06-15","v":1.5},{"c":"I","l":"5","d":"2021-07-01","v":2.5},{"c":"I","l":"5","d":"2021-07-15","v":3.5},{"c":"I","l":"5","d":"2021-08-01","v":4.5},{"c":"I","l":"5","d":"2021-08-15","v":6},{"c":"I","l":"5","d":"2021-09-01","v":5.5},{"c":"I","l":"5","d":"2021-09-20","v":8.4},
{"c":"I","l":"6","d":"2021-02-02","v":-1},{"c":"I","l":"6","d":"2021-02-15","v":-1.5},{"c":"I","l":"6","d":"2021-03-01","v":-2},{"c":"I","l":"6","d":"2021-03-15","v":-1},{"c":"I","l":"6","d":"2021-04-01","v":-0.5},{"c":"I","l":"6","d":"2021-04-15","v":0},{"c":"I","l":"6","d":"2021-05-01","v":-1},{"c":"I","l":"6","d":"2021-05-15","v":-2},{"c":"I","l":"6","d":"2021-06-01","v":-1},{"c":"I","l":"6","d":"2021-06-15","v":-1},{"c":"I","l":"6","d":"2021-07-01","v":-1.5},{"c":"I","l":"6","d":"2021-07-15","v":-4.5},{"c":"I","l":"6","d":"2021-08-01","v":-7},{"c":"I","l":"6","d":"2021-08-15","v":-8},{"c":"I","l":"6","d":"2021-09-01","v":-5},{"c":"I","l":"6","d":"2021-09-20","v":2.1},
{"c":"I","l":"7","d":"2021-02-02","v":0},{"c":"I","l":"7","d":"2021-02-15","v":0.5},{"c":"I","l":"7","d":"2021-03-01","v":1.5},{"c":"I","l":"7","d":"2021-03-15","v":1},{"c":"I","l":"7","d":"2021-04-01","v":0.5},{"c":"I","l":"7","d":"2021-04-15","v":0.5},{"c":"I","l":"7","d":"2021-05-01","v":1.5},{"c":"I","l":"7","d":"2021-05-15","v":1},{"c":"I","l":"7","d":"2021-06-01","v":1.5},{"c":"I","l":"7","d":"2021-06-15","v":6.2},{"c":"I","l":"7","d":"2021-07-01","v":1},{"c":"I","l":"7","d":"2021-07-15","v":0},{"c":"I","l":"7","d":"2021-08-01","v":0.5},{"c":"I","l":"7","d":"2021-08-15","v":0.6},{"c":"I","l":"7","d":"2021-09-01","v":0.6},{"c":"I","l":"7","d":"2021-09-20","v":0.6},
{"c":"I","l":"8","d":"2021-02-02","v":-0.5},{"c":"I","l":"8","d":"2021-02-15","v":-0.5},{"c":"I","l":"8","d":"2021-03-01","v":0},{"c":"I","l":"8","d":"2021-03-15","v":-0.5},{"c":"I","l":"8","d":"2021-04-01","v":-1},{"c":"I","l":"8","d":"2021-04-15","v":-1.5},{"c":"I","l":"8","d":"2021-05-01","v":-1},{"c":"I","l":"8","d":"2021-05-15","v":-0.5},{"c":"I","l":"8","d":"2021-06-01","v":0.5},{"c":"I","l":"8","d":"2021-06-15","v":1.5},{"c":"I","l":"8","d":"2021-07-01","v":2.5},{"c":"I","l":"8","d":"2021-07-15","v":3},{"c":"I","l":"8","d":"2021-08-01","v":2},{"c":"I","l":"8","d":"2021-08-15","v":1.5},{"c":"I","l":"8","d":"2021-09-01","v":1},{"c":"I","l":"8","d":"2021-09-20","v":0.9},
{"c":"I","l":"9","d":"2021-02-02","v":-1.5},{"c":"I","l":"9","d":"2021-02-15","v":-3},{"c":"I","l":"9","d":"2021-03-01","v":-5},{"c":"I","l":"9","d":"2021-03-15","v":-4.5},{"c":"I","l":"9","d":"2021-04-01","v":-2},{"c":"I","l":"9","d":"2021-04-15","v":-0.5},{"c":"I","l":"9","d":"2021-05-01","v":2},{"c":"I","l":"9","d":"2021-05-15","v":3},{"c":"I","l":"9","d":"2021-06-01","v":2.5},{"c":"I","l":"9","d":"2021-06-15","v":1.5},{"c":"I","l":"9","d":"2021-07-01","v":0.5},{"c":"I","l":"9","d":"2021-07-15","v":-0.5},{"c":"I","l":"9","d":"2021-08-01","v":-1},{"c":"I","l":"9","d":"2021-08-15","v":-1.5},{"c":"I","l":"9","d":"2021-09-01","v":-1.8},{"c":"I","l":"9","d":"2021-09-20","v":-1.8},
{"c":"I","l":"10","d":"2021-02-02","v":0},{"c":"I","l":"10","d":"2021-02-15","v":0},{"c":"I","l":"10","d":"2021-03-01","v":-0.5},{"c":"I","l":"10","d":"2021-03-15","v":0},{"c":"I","l":"10","d":"2021-04-01","v":-0.5},{"c":"I","l":"10","d":"2021-04-15","v":-1},{"c":"I","l":"10","d":"2021-05-01","v":-0.5},{"c":"I","l":"10","d":"2021-05-15","v":-1.5},{"c":"I","l":"10","d":"2021-06-01","v":-1},{"c":"I","l":"10","d":"2021-06-15","v":-0.5},{"c":"I","l":"10","d":"2021-07-01","v":-0.5},{"c":"I","l":"10","d":"2021-07-15","v":-1},{"c":"I","l":"10","d":"2021-08-01","v":-1.5},{"c":"I","l":"10","d":"2021-08-15","v":-1.5},{"c":"I","l":"10","d":"2021-09-01","v":-1.8},{"c":"I","l":"10","d":"2021-09-20","v":-2.2},
{"c":"I","l":"11","d":"2021-02-02","v":1},{"c":"I","l":"11","d":"2021-02-15","v":1.5},{"c":"I","l":"11","d":"2021-03-01","v":2},{"c":"I","l":"11","d":"2021-03-15","v":2},{"c":"I","l":"11","d":"2021-04-01","v":0.5},{"c":"I","l":"11","d":"2021-04-15","v":0},{"c":"I","l":"11","d":"2021-05-01","v":0},{"c":"I","l":"11","d":"2021-05-15","v":-0.5},{"c":"I","l":"11","d":"2021-06-01","v":-2},{"c":"I","l":"11","d":"2021-06-15","v":-5},{"c":"I","l":"11","d":"2021-07-01","v":-3},{"c":"I","l":"11","d":"2021-07-15","v":-2},{"c":"I","l":"11","d":"2021-08-01","v":-3},{"c":"I","l":"11","d":"2021-08-15","v":-4},{"c":"I","l":"11","d":"2021-09-01","v":-5},{"c":"I","l":"11","d":"2021-09-20","v":-5.5},
{"c":"I","l":"12","d":"2021-02-02","v":0.5},{"c":"I","l":"12","d":"2021-02-15","v":1},{"c":"I","l":"12","d":"2021-03-01","v":2},{"c":"I","l":"12","d":"2021-03-15","v":2.5},{"c":"I","l":"12","d":"2021-04-01","v":1},{"c":"I","l":"12","d":"2021-04-15","v":0.5},{"c":"I","l":"12","d":"2021-05-01","v":-0.5},{"c":"I","l":"12","d":"2021-05-15","v":-1.5},{"c":"I","l":"12","d":"2021-06-01","v":-3.5},{"c":"I","l":"12","d":"2021-06-15","v":-5},{"c":"I","l":"12","d":"2021-07-01","v":-4},{"c":"I","l":"12","d":"2021-07-15","v":-5},{"c":"I","l":"12","d":"2021-08-01","v":-7},{"c":"I","l":"12","d":"2021-08-15","v":-7.5},{"c":"I","l":"12","d":"2021-09-01","v":-7.8},{"c":"I","l":"12","d":"2021-09-20","v":-8},
{"c":"I","l":"13","d":"2021-02-02","v":-1},{"c":"I","l":"13","d":"2021-02-15","v":-1.5},{"c":"I","l":"13","d":"2021-03-01","v":-2.5},{"c":"I","l":"13","d":"2021-03-15","v":-3},{"c":"I","l":"13","d":"2021-04-01","v":-2},{"c":"I","l":"13","d":"2021-04-15","v":-2.5},{"c":"I","l":"13","d":"2021-05-01","v":-3.5},{"c":"I","l":"13","d":"2021-05-15","v":-5},{"c":"I","l":"13","d":"2021-06-01","v":-7},{"c":"I","l":"13","d":"2021-06-15","v":-8.7},{"c":"I","l":"13","d":"2021-07-01","v":-9.5},{"c":"I","l":"13","d":"2021-07-15","v":-10.3},{"c":"I","l":"13","d":"2021-08-01","v":-9},{"c":"I","l":"13","d":"2021-08-15","v":-7.5},{"c":"I","l":"13","d":"2021-09-01","v":-3},{"c":"I","l":"13","d":"2021-09-20","v":0.8},
{"c":"I","l":"14","d":"2021-02-02","v":-1.5},{"c":"I","l":"14","d":"2021-02-15","v":-2},{"c":"I","l":"14","d":"2021-03-01","v":-2.5},{"c":"I","l":"14","d":"2021-03-15","v":-3},{"c":"I","l":"14","d":"2021-04-01","v":-2},{"c":"I","l":"14","d":"2021-04-15","v":-1.5},{"c":"I","l":"14","d":"2021-05-01","v":-1},{"c":"I","l":"14","d":"2021-05-15","v":-2},{"c":"I","l":"14","d":"2021-06-01","v":-3},{"c":"I","l":"14","d":"2021-06-15","v":-4},{"c":"I","l":"14","d":"2021-07-01","v":-5},{"c":"I","l":"14","d":"2021-07-15","v":-6.5},{"c":"I","l":"14","d":"2021-08-01","v":-8.5},{"c":"I","l":"14","d":"2021-08-15","v":-9.5},{"c":"I","l":"14","d":"2021-09-01","v":-9.8},{"c":"I","l":"14","d":"2021-09-20","v":-9.8}
]
},
"columns":3,
"spacing":{"row":108,"column":100},
"bounds":"flush",
"resolve":{"scale":{"color":"independent","strokeDash":"independent"},"legend":{"color":"independent","strokeDash":"independent"}},
"concat":[
{"width":326,"height":222,
 "title":{"text":"a","anchor":"start","frame":"group","dx":18,"offset":-1},
 "resolve":{"scale":{"x":"independent"},"axis":{"x":"independent"}},
 "layer":[
  {"layer":[
   {"data":{"name":"aband"},"transform":[{"filter":"datum.c=='F'"}],
    "mark":{"type":"area","color":"#d7222a","opacity":0.35,"interpolate":"monotone"},
    "encoding":{
     "x":{"field":"d","type":"temporal","scale":{"type":"utc","domain":[{"year":2021,"month":1,"date":1,"utc":true},{"year":2021,"month":12,"date":28,"utc":true}]},"axis":{"title":null,"tickCount":{"interval":"month","step":1},"labelAngle":-45,"labelAlign":"right","labelBaseline":"middle","labelPadding":2,"labelExpr":"utcmonth(datum.value) == 0 ? ['Jan', '2021'] : utcFormat(datum.value, '%b')"}},
     "y":{"field":"lo","type":"quantitative","scale":{"domain":[0,82.6],"nice":false,"zero":false},"axis":{"values":[0,20,40,60,80],"labelExpr":"datum.value + '%'","title":"% Vaccinated","titlePadding":6}},
     "y2":{"field":"hi"}}},
   {"data":{"name":"aline"},"transform":[{"filter":"datum.c=='F'"}],
    "mark":{"type":"line","interpolate":"monotone"},
    "encoding":{
     "x":{"field":"d","type":"temporal"},
     "y":{"field":"v","type":"quantitative"},
     "color":{"field":"s","type":"nominal","scale":{"domain":["Counterfactual","Observed","Synthetic control"],"range":["#d7222a","#0279be","#8cc63e"]},
      "legend":{"title":null,"orient":"none","legendX":126,"legendY":135,"labelFontSize":16,"labelColor":"#262626","labelFont":"DejaVu Sans","symbolType":"stroke","symbolSize":1000,"symbolStrokeWidth":2,"fillColor":"rgba(255,255,255,0.8)","padding":6,"rowPadding":7.5,"labelOffset":23,"labelLimit":0,
       "encode":{"symbols":{"update":{"strokeWidth":{"signal":"datum.value == 'Synthetic control' ? 5 : 2"},"strokeDash":{"signal":"datum.value == 'Synthetic control' ? [12,6] : [1,0]"}}}}}},
     "strokeDash":{"field":"s","type":"nominal","scale":{"domain":["Counterfactual","Observed","Synthetic control"],"range":[[1,0],[1,0],[12,6]]},"legend":null},
     "strokeWidth":{"condition":{"test":"datum.s == 'Synthetic control'","value":5},"value":2}}},
   {"data":{"name":"adiff"},"transform":[{"filter":"datum.c=='F'"}],
    "mark":{"type":"text","color":"#d7222a","fontSize":16,"lineBreak":"\n","lineHeight":19,"align":"center","baseline":"middle"},
    "encoding":{"x":{"field":"d","type":"temporal"},"y":{"field":"v","type":"quantitative"},"text":{"field":"t"}}}
  ]},
  {"data":{"name":"acert"},"transform":[{"filter":"datum.c=='F'"}],
   "layer":[
    {"mark":{"type":"rule","color":"#000000","strokeWidth":1.5,"strokeDash":[5,3]},
     "encoding":{"x":{"field":"d","type":"temporal","scale":{"type":"utc","domain":[{"year":2021,"month":1,"date":1,"utc":true},{"year":2021,"month":12,"date":28,"utc":true}]},"axis":{"orient":"top","title":"France","labels":false,"grid":false,"titleFontSize":17.5,"titlePadding":3,"titleColor":"#000000"}}}},
    {"mark":{"type":"text","align":"left","baseline":"middle","dx":6,"fontSize":16,"lineBreak":"\n","lineHeight":19,"color":"#262626"},
     "encoding":{"x":{"field":"d","type":"temporal"},"y":{"field":"v","type":"quantitative"},"text":{"value":"COVID\ncertificate"}}}
   ]}
 ]},
{"width":326,"height":222,
 "resolve":{"scale":{"x":"independent"},"axis":{"x":"independent"}},
 "layer":[
  {"layer":[
   {"data":{"name":"aband"},"transform":[{"filter":"datum.c=='G'"}],
    "mark":{"type":"area","color":"#d7222a","opacity":0.35,"interpolate":"monotone"},
    "encoding":{
     "x":{"field":"d","type":"temporal","scale":{"type":"utc","domain":[{"year":2021,"month":1,"date":1,"utc":true},{"year":2021,"month":12,"date":28,"utc":true}]},"axis":{"title":null,"tickCount":{"interval":"month","step":1},"labelAngle":-45,"labelAlign":"right","labelBaseline":"middle","labelPadding":2,"labelExpr":"utcmonth(datum.value) == 0 ? ['Jan', '2021'] : utcFormat(datum.value, '%b')"}},
     "y":{"field":"lo","type":"quantitative","scale":{"domain":[0,82.6],"nice":false,"zero":false},"axis":{"values":[0,20,40,60,80],"labelExpr":"datum.value + '%'","title":null}},
     "y2":{"field":"hi"}}},
   {"data":{"name":"aline"},"transform":[{"filter":"datum.c=='G'"}],
    "mark":{"type":"line","interpolate":"monotone"},
    "encoding":{
     "x":{"field":"d","type":"temporal"},
     "y":{"field":"v","type":"quantitative"},
     "color":{"field":"s","type":"nominal","scale":{"domain":["Counterfactual","Observed","Synthetic control"],"range":["#d7222a","#0279be","#8cc63e"]},"legend":null},
     "strokeDash":{"field":"s","type":"nominal","scale":{"domain":["Counterfactual","Observed","Synthetic control"],"range":[[1,0],[1,0],[12,6]]},"legend":null},
     "strokeWidth":{"condition":{"test":"datum.s == 'Synthetic control'","value":5},"value":2}}},
   {"data":{"name":"adiff"},"transform":[{"filter":"datum.c=='G'"}],
    "mark":{"type":"text","color":"#d7222a","fontSize":16,"lineBreak":"\n","lineHeight":19,"align":"center","baseline":"middle"},
    "encoding":{"x":{"field":"d","type":"temporal"},"y":{"field":"v","type":"quantitative"},"text":{"field":"t"}}}
  ]},
  {"data":{"name":"acert"},"transform":[{"filter":"datum.c=='G'"}],
   "layer":[
    {"mark":{"type":"rule","color":"#000000","strokeWidth":1.5,"strokeDash":[5,3]},
     "encoding":{"x":{"field":"d","type":"temporal","scale":{"type":"utc","domain":[{"year":2021,"month":1,"date":1,"utc":true},{"year":2021,"month":12,"date":28,"utc":true}]},"axis":{"orient":"top","title":"Germany","labels":false,"grid":false,"titleFontSize":17.5,"titlePadding":3,"titleColor":"#000000"}}}},
    {"mark":{"type":"text","align":"left","baseline":"middle","dx":6,"fontSize":16,"lineBreak":"\n","lineHeight":19,"color":"#262626"},
     "encoding":{"x":{"field":"d","type":"temporal"},"y":{"field":"v","type":"quantitative"},"text":{"value":"COVID\ncertificate"}}}
   ]}
 ]},
{"width":326,"height":222,
 "resolve":{"scale":{"x":"independent"},"axis":{"x":"independent"}},
 "layer":[
  {"layer":[
   {"data":{"name":"aband"},"transform":[{"filter":"datum.c=='I'"}],
    "mark":{"type":"area","color":"#d7222a","opacity":0.35,"interpolate":"monotone"},
    "encoding":{
     "x":{"field":"d","type":"temporal","scale":{"type":"utc","domain":[{"year":2021,"month":1,"date":1,"utc":true},{"year":2021,"month":12,"date":28,"utc":true}]},"axis":{"title":null,"tickCount":{"interval":"month","step":1},"labelAngle":-45,"labelAlign":"right","labelBaseline":"middle","labelPadding":2,"labelExpr":"utcmonth(datum.value) == 0 ? ['Jan', '2021'] : utcFormat(datum.value, '%b')"}},
     "y":{"field":"lo","type":"quantitative","scale":{"domain":[0,82.6],"nice":false,"zero":false},"axis":{"values":[0,20,40,60,80],"labelExpr":"datum.value + '%'","title":null}},
     "y2":{"field":"hi"}}},
   {"data":{"name":"aline"},"transform":[{"filter":"datum.c=='I'"}],
    "mark":{"type":"line","interpolate":"monotone"},
    "encoding":{
     "x":{"field":"d","type":"temporal"},
     "y":{"field":"v","type":"quantitative"},
     "color":{"field":"s","type":"nominal","scale":{"domain":["Counterfactual","Observed","Synthetic control"],"range":["#d7222a","#0279be","#8cc63e"]},"legend":null},
     "strokeDash":{"field":"s","type":"nominal","scale":{"domain":["Counterfactual","Observed","Synthetic control"],"range":[[1,0],[1,0],[12,6]]},"legend":null},
     "strokeWidth":{"condition":{"test":"datum.s == 'Synthetic control'","value":5},"value":2}}},
   {"data":{"name":"adiff"},"transform":[{"filter":"datum.c=='I'"}],
    "mark":{"type":"text","color":"#d7222a","fontSize":16,"lineBreak":"\n","lineHeight":19,"align":"center","baseline":"middle"},
    "encoding":{"x":{"field":"d","type":"temporal"},"y":{"field":"v","type":"quantitative"},"text":{"field":"t"}}}
  ]},
  {"data":{"name":"acert"},"transform":[{"filter":"datum.c=='I'"}],
   "layer":[
    {"mark":{"type":"rule","color":"#000000","strokeWidth":1.5,"strokeDash":[5,3]},
     "encoding":{"x":{"field":"d","type":"temporal","scale":{"type":"utc","domain":[{"year":2021,"month":1,"date":1,"utc":true},{"year":2021,"month":12,"date":28,"utc":true}]},"axis":{"orient":"top","title":"Italy","labels":false,"grid":false,"titleFontSize":17.5,"titlePadding":3,"titleColor":"#000000"}}}},
    {"mark":{"type":"text","align":"left","baseline":"middle","dx":6,"fontSize":16,"lineBreak":"\n","lineHeight":19,"color":"#262626"},
     "encoding":{"x":{"field":"d","type":"temporal"},"y":{"field":"v","type":"quantitative"},"text":{"value":"COVID\ncertificate"}}}
   ]}
 ]},
{"width":326,"height":216,
 "title":{"text":"b","anchor":"start","frame":"group","dx":18,"offset":-1},
 "data":{"name":"b"},"transform":[{"filter":"datum.c=='F'"}],
 "resolve":{"scale":{"x":"independent"},"axis":{"x":"independent"}},
 "layer":[
  {"mark":{"type":"bar","color":"#0279be","clip":true},
   "encoding":{"y":{"field":"k","type":"nominal","sort":{"field":"w","op":"max","order":"descending"},"scale":{"paddingInner":0.49,"paddingOuter":0.2},"axis":{"title":null,"grid":true,"bandPosition":0.5}},
    "x":{"field":"w","type":"quantitative","scale":{"domain":[0,0.5],"nice":false},"axis":{"values":[0,0.1,0.2,0.3,0.4,0.5],"format":".0%","title":"Country weights","titleFontSize":12,"titlePadding":4,"labelPadding":4}}}},
  {"mark":{"type":"bar","opacity":0},
   "encoding":{"y":{"field":"k","type":"nominal","sort":{"field":"w","op":"max","order":"descending"}},
    "x":{"field":"w","type":"quantitative","scale":{"domain":[0,0.5],"nice":false},"axis":{"orient":"top","title":"France","labels":false,"grid":false,"titleFontSize":17.5,"titlePadding":3,"titleColor":"#000000"}}}}
 ]},
{"width":326,"height":216,
 "data":{"name":"b"},"transform":[{"filter":"datum.c=='G'"}],
 "resolve":{"scale":{"x":"independent"},"axis":{"x":"independent"}},
 "layer":[
  {"mark":{"type":"bar","color":"#0279be","clip":true},
   "encoding":{"y":{"field":"k","type":"nominal","sort":{"field":"w","op":"max","order":"descending"},"scale":{"paddingInner":0.49,"paddingOuter":0.2},"axis":{"title":null,"grid":true,"bandPosition":0.5}},
    "x":{"field":"w","type":"quantitative","scale":{"domain":[0,0.5],"nice":false},"axis":{"values":[0,0.1,0.2,0.3,0.4,0.5],"format":".0%","title":"Country weights","titleFontSize":12,"titlePadding":4,"labelPadding":4}}}},
  {"mark":{"type":"bar","opacity":0},
   "encoding":{"y":{"field":"k","type":"nominal","sort":{"field":"w","op":"max","order":"descending"}},
    "x":{"field":"w","type":"quantitative","scale":{"domain":[0,0.5],"nice":false},"axis":{"orient":"top","title":"Germany","labels":false,"grid":false,"titleFontSize":17.5,"titlePadding":3,"titleColor":"#000000"}}}}
 ]},
{"width":326,"height":216,
 "data":{"name":"b"},"transform":[{"filter":"datum.c=='I'"}],
 "resolve":{"scale":{"x":"independent"},"axis":{"x":"independent"}},
 "layer":[
  {"mark":{"type":"bar","color":"#0279be","clip":true},
   "encoding":{"y":{"field":"k","type":"nominal","sort":{"field":"w","op":"max","order":"descending"},"scale":{"paddingInner":0.49,"paddingOuter":0.2},"axis":{"title":null,"grid":true,"bandPosition":0.5}},
    "x":{"field":"w","type":"quantitative","scale":{"domain":[0,0.5],"nice":false},"axis":{"values":[0,0.1,0.2,0.3,0.4,0.5],"format":".0%","title":"Country weights","titleFontSize":12,"titlePadding":4,"labelPadding":4}}}},
  {"mark":{"type":"bar","opacity":0},
   "encoding":{"y":{"field":"k","type":"nominal","sort":{"field":"w","op":"max","order":"descending"}},
    "x":{"field":"w","type":"quantitative","scale":{"domain":[0,0.5],"nice":false},"axis":{"orient":"top","title":"Italy","labels":false,"grid":false,"titleFontSize":17.5,"titlePadding":3,"titleColor":"#000000"}}}}
 ]},
{"width":326,"height":219,
 "title":{"text":"c","anchor":"start","frame":"group","dx":18,"offset":-1},
 "resolve":{"scale":{"x":"independent"},"axis":{"x":"independent"}},
 "layer":[
  {"data":{"name":"cl"},
   "layer":[
   {"transform":[{"filter":"datum.c=='F' && datum.l!='T'"}],
    "mark":{"type":"line","color":"#808080","strokeWidth":1,"interpolate":"monotone"},
    "encoding":{
     "x":{"field":"d","type":"temporal","scale":{"type":"utc","domain":[{"year":2021,"month":2,"date":2,"utc":true},{"year":2021,"month":9,"date":20,"utc":true}]},"axis":{"title":null,"tickCount":{"interval":"month","step":1},"labelPadding":4,"labelExpr":"utcmonth(datum.value) == 2 ? ['Mar', '2021'] : utcFormat(datum.value, '%b')"}},
     "y":{"field":"v","type":"quantitative","scale":{"domain":[-18.25,22.8],"nice":false,"zero":false},"axis":{"values":[-10,0,10,20],"title":"Gap in vaccination rate","titlePadding":6}},
     "detail":{"field":"l"}}},
   {"transform":[{"filter":"datum.c=='F' && datum.l=='T'"}],
    "mark":{"type":"line","color":"#0279be","strokeWidth":3,"interpolate":"monotone"},
    "encoding":{"x":{"field":"d","type":"temporal"},"y":{"field":"v","type":"quantitative"}}}
  ]},
  {"data":{"name":"acert"},"transform":[{"filter":"datum.c=='F'"}],
   "mark":{"type":"rule","color":"#000000","strokeWidth":1.5,"strokeDash":[5,3]},
   "encoding":{"x":{"field":"d","type":"temporal","scale":{"type":"utc","domain":[{"year":2021,"month":2,"date":2,"utc":true},{"year":2021,"month":9,"date":20,"utc":true}]},"axis":{"orient":"top","title":"France","labels":false,"grid":false,"titleFontSize":17.5,"titlePadding":3,"titleColor":"#000000"}}}}
 ]},
{"width":326,"height":219,
 "resolve":{"scale":{"x":"independent"},"axis":{"x":"independent"}},
 "layer":[
  {"data":{"name":"cl"},
   "layer":[
   {"transform":[{"filter":"datum.c=='G' && datum.l!='T'"}],
    "mark":{"type":"line","color":"#808080","strokeWidth":1,"interpolate":"monotone"},
    "encoding":{
     "x":{"field":"d","type":"temporal","scale":{"type":"utc","domain":[{"year":2021,"month":2,"date":2,"utc":true},{"year":2021,"month":9,"date":20,"utc":true}]},"axis":{"title":null,"tickCount":{"interval":"month","step":1},"labelPadding":4,"labelExpr":"utcmonth(datum.value) == 2 ? ['Mar', '2021'] : utcFormat(datum.value, '%b')"}},
     "y":{"field":"v","type":"quantitative","scale":{"domain":[-12.65,22.87],"nice":false,"zero":false},"axis":{"values":[-10,0,10,20],"title":null}},
     "detail":{"field":"l"}}},
   {"transform":[{"filter":"datum.c=='G' && datum.l=='T'"}],
    "mark":{"type":"line","color":"#0279be","strokeWidth":3,"interpolate":"monotone"},
    "encoding":{"x":{"field":"d","type":"temporal"},"y":{"field":"v","type":"quantitative"}}}
  ]},
  {"data":{"name":"acert"},"transform":[{"filter":"datum.c=='G'"}],
   "mark":{"type":"rule","color":"#000000","strokeWidth":1.5,"strokeDash":[5,3]},
   "encoding":{"x":{"field":"d","type":"temporal","scale":{"type":"utc","domain":[{"year":2021,"month":2,"date":2,"utc":true},{"year":2021,"month":9,"date":20,"utc":true}]},"axis":{"orient":"top","title":"Germany","labels":false,"grid":false,"titleFontSize":17.5,"titlePadding":3,"titleColor":"#000000"}}}}
 ]},
{"width":326,"height":219,
 "resolve":{"scale":{"x":"independent"},"axis":{"x":"independent"}},
 "layer":[
  {"data":{"name":"cl"},
   "layer":[
   {"transform":[{"filter":"datum.c=='I' && datum.l!='T'"}],
    "mark":{"type":"line","color":"#808080","strokeWidth":1,"interpolate":"monotone"},
    "encoding":{
     "x":{"field":"d","type":"temporal","scale":{"type":"utc","domain":[{"year":2021,"month":2,"date":2,"utc":true},{"year":2021,"month":9,"date":20,"utc":true}]},"axis":{"title":null,"tickCount":{"interval":"month","step":1},"labelPadding":4,"labelExpr":"utcmonth(datum.value) == 2 ? ['Mar', '2021'] : utcFormat(datum.value, '%b')"}},
     "y":{"field":"v","type":"quantitative","scale":{"domain":[-17.67,22.76],"nice":false,"zero":false},"axis":{"values":[-10,0,10,20],"title":null}},
     "detail":{"field":"l"}}},
   {"transform":[{"filter":"datum.c=='I' && datum.l=='T'"}],
    "mark":{"type":"line","color":"#0279be","strokeWidth":3,"interpolate":"monotone"},
    "encoding":{"x":{"field":"d","type":"temporal"},"y":{"field":"v","type":"quantitative"}}}
  ]},
  {"data":{"name":"acert"},"transform":[{"filter":"datum.c=='I'"}],
   "mark":{"type":"rule","color":"#000000","strokeWidth":1.5,"strokeDash":[5,3]},
   "encoding":{"x":{"field":"d","type":"temporal","scale":{"type":"utc","domain":[{"year":2021,"month":2,"date":2,"utc":true},{"year":2021,"month":9,"date":20,"utc":true}]},"axis":{"orient":"top","title":"Italy","labels":false,"grid":false,"titleFontSize":17.5,"titlePadding":3,"titleColor":"#000000"}}}}
 ]},
{"width":326,"height":225,
 "title":{"text":"d","anchor":"start","frame":"group","dx":18,"offset":-1},
 "data":{"name":"d"},"transform":[{"filter":"datum.c=='F'"}],
 "resolve":{"scale":{"x":"independent"},"axis":{"x":"independent"}},
 "layer":[
  {"mark":{"type":"bar"},
   "encoding":{"y":{"field":"k","type":"nominal","sort":{"field":"r","op":"max","order":"descending"},"scale":{"paddingInner":0.46,"paddingOuter":0.3},"axis":{"title":null,"grid":true,"bandPosition":0.5}},
    "x":{"field":"r","type":"quantitative","scale":{"domain":[0,363.5],"nice":false},"axis":{"values":[0,100,200,300],"title":"RMSE ratios","titleFontSize":12,"titlePadding":4,"labelPadding":-2}},
    "color":{"condition":{"test":"datum.t","value":"#d7222a"},"value":"#0279be"}}},
  {"mark":{"type":"bar","opacity":0},
   "encoding":{"y":{"field":"k","type":"nominal","sort":{"field":"r","op":"max","order":"descending"}},
    "x":{"field":"r","type":"quantitative","scale":{"domain":[0,363.5],"nice":false},"axis":{"orient":"top","title":"France","labels":false,"grid":false,"titleFontSize":17.5,"titlePadding":3,"titleColor":"#000000"}}}}
 ]},
{"width":326,"height":225,
 "data":{"name":"d"},"transform":[{"filter":"datum.c=='G'"}],
 "resolve":{"scale":{"x":"independent"},"axis":{"x":"independent"}},
 "layer":[
  {"mark":{"type":"bar"},
   "encoding":{"y":{"field":"k","type":"nominal","sort":{"field":"r","op":"max","order":"descending"},"scale":{"paddingInner":0.46,"paddingOuter":0.3},"axis":{"title":null,"grid":true,"bandPosition":0.5}},
    "x":{"field":"r","type":"quantitative","scale":{"domain":[0,33.4],"nice":false},"axis":{"values":[0,10,20,30],"title":"RMSE ratios","titleFontSize":12,"titlePadding":4,"labelPadding":-2}},
    "color":{"condition":{"test":"datum.t","value":"#d7222a"},"value":"#0279be"}}},
  {"mark":{"type":"bar","opacity":0},
   "encoding":{"y":{"field":"k","type":"nominal","sort":{"field":"r","op":"max","order":"descending"}},
    "x":{"field":"r","type":"quantitative","scale":{"domain":[0,33.4],"nice":false},"axis":{"orient":"top","title":"Germany","labels":false,"grid":false,"titleFontSize":17.5,"titlePadding":3,"titleColor":"#000000"}}}}
 ]},
{"width":326,"height":225,
 "data":{"name":"d"},"transform":[{"filter":"datum.c=='I'"}],
 "resolve":{"scale":{"x":"independent"},"axis":{"x":"independent"}},
 "layer":[
  {"mark":{"type":"bar"},
   "encoding":{"y":{"field":"k","type":"nominal","sort":{"field":"r","op":"max","order":"descending"},"scale":{"paddingInner":0.46,"paddingOuter":0.3},"axis":{"title":null,"grid":true,"bandPosition":0.5}},
    "x":{"field":"r","type":"quantitative","scale":{"domain":[0,36.7],"nice":false},"axis":{"values":[0,10,20,30],"title":"RMSE ratios","titleFontSize":12,"titlePadding":4,"labelPadding":-2}},
    "color":{"condition":{"test":"datum.t","value":"#d7222a"},"value":"#0279be"}}},
  {"mark":{"type":"bar","opacity":0},
   "encoding":{"y":{"field":"k","type":"nominal","sort":{"field":"r","op":"max","order":"descending"}},
    "x":{"field":"r","type":"quantitative","scale":{"domain":[0,36.7],"nice":false},"axis":{"orient":"top","title":"Italy","labels":false,"grid":false,"titleFontSize":17.5,"titlePadding":3,"titleColor":"#000000"}}}}
 ]}
]
}
